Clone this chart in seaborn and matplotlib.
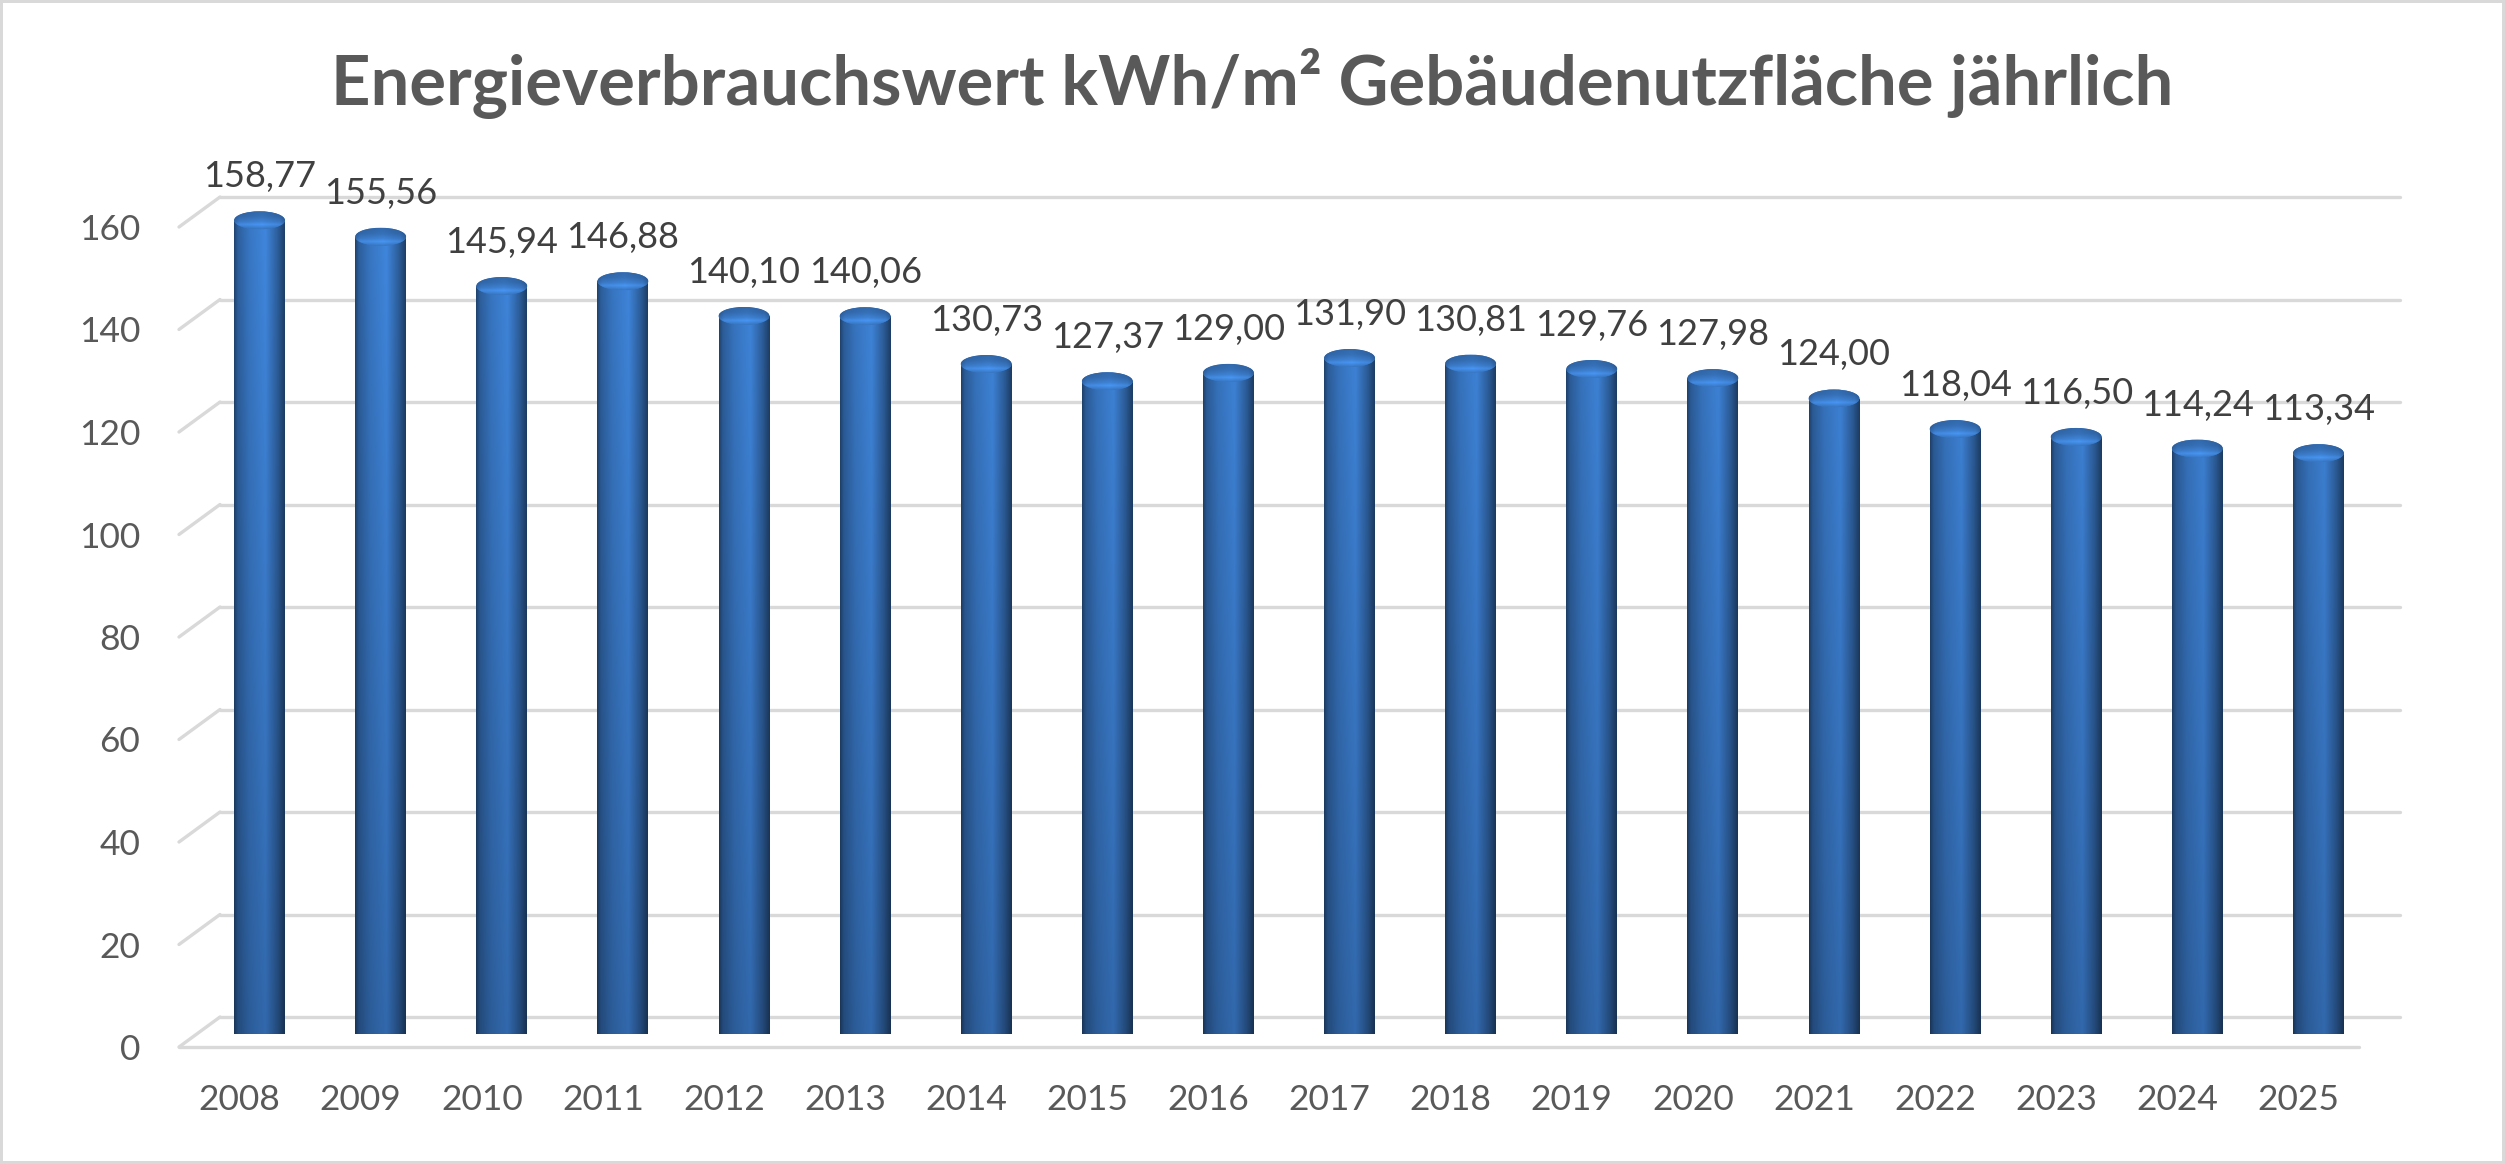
import numpy as np
import pandas as pd
import matplotlib
matplotlib.use("Agg")
import matplotlib.pyplot as plt
import matplotlib.transforms as mtransforms
from matplotlib.patches import Ellipse
from matplotlib.lines import Line2D
import seaborn as sns

# ---------------- data ----------------
years = ["2008", "2009", "2010", "2011", "2012", "2013", "2014", "2015", "2016",
         "2017", "2018", "2019", "2020", "2021", "2022", "2023", "2024", "2025"]
values = [158.77, 155.56, 145.94, 146.88, 140.10, 140.06, 130.73, 127.37, 129.00,
          131.90, 130.81, 129.76, 127.98, 124.00, 118.04, 116.50, 114.24, 113.34]
y_ticks = [0, 20, 40, 60, 80, 100, 120, 140, 160]
title = "Energieverbrauchswert kWh/m² Gebäudenutzfläche jährlich"

df = pd.DataFrame({"year": years, "value": values})
value_labels = [f"{v:.2f}".replace(".", ",") for v in values]

# ---------------- style ----------------
sns.set_theme(style="white")
plt.rcParams["font.family"] = ["Lato", "DejaVu Sans"]

W, H = 2505, 1164
DPI = 100
fig = plt.figure(figsize=(W / DPI, H / DPI), dpi=DPI)
fig.patch.set_facecolor("white")
fig.patch.set_edgecolor("#d9d9d9")
fig.patch.set_linewidth(4)

# back wall of the pseudo-3D plot area (pixels)
left_px, right_px, bottom_px, top_px = 220, 2400, 1017, 197
ax = fig.add_axes([left_px / W, 1 - bottom_px / H,
                   (right_px - left_px) / W, (bottom_px - top_px) / H])

sns.barplot(data=df, x="year", y="value", color="#3a78c8", saturation=1,
            width=0.42, linewidth=0, ax=ax)

ax.set_xlim(-0.5, len(years) - 0.5)
ax.set_ylim(0, 160)
ax.set_yticks(y_ticks)
ax.set_xlabel("")
ax.set_ylabel("")
sns.despine(ax=ax, left=True, bottom=True)
ax.set_facecolor("none")

# depth offsets (front plane and bar plane) in pixels
front_dx, front_dy = -41, -30
mid_dx, mid_dy = -21, -17
front_off = mtransforms.ScaledTranslation(front_dx / DPI, front_dy / DPI, fig.dpi_scale_trans)
mid_off = mtransforms.ScaledTranslation(mid_dx / DPI, mid_dy / DPI, fig.dpi_scale_trans)
mid = ax.transData + mid_off
front = ax.transData + front_off

# gridlines on the back wall
grid_color = "#d9d9d9"
ax.grid(axis="y", color=grid_color, linewidth=2.4)
ax.grid(axis="x", visible=False)
ax.set_axisbelow(True)
for gl in ax.get_ygridlines():
    gl.set_clip_on(False)

# diagonal connectors on the left side wall
x0 = ax.get_xlim()[0]
for v in y_ticks:
    tr = fig.dpi_scale_trans + mtransforms.ScaledTranslation(x0, v, ax.transData)
    ln = Line2D([0, front_dx / DPI], [0, front_dy / DPI], transform=tr,
                color=grid_color, linewidth=2.4, clip_on=False, zorder=0.5,
                solid_capstyle="round")
    ax.add_line(ln)
# front edge of the floor
ax.plot(ax.get_xlim(), [0, 0], transform=front, color=grid_color,
        linewidth=2.4, clip_on=False, zorder=0.5, solid_capstyle="round")

# ---------------- cylinder shading ----------------
ppu = ax.transData.transform((0, 1))[1] - ax.transData.transform((0, 0))[1]
cap_h = 18 / ppu  # ellipse height in data units

nx, ny = 80, 300
hx = np.linspace(0, 1, nx)
h_mult = np.interp(hx, [0, 0.07, 0.3, 0.62, 0.86, 1.0],
                   [0.52, 0.72, 0.9, 1.02, 0.72, 0.48])
vy = np.linspace(0, 1, ny)[:, None]
top_col = np.array([0.245, 0.52, 0.855])
bot_col = np.array([0.19, 0.40, 0.66])
base = bot_col[None, None, :] * (1 - vy[..., None]) + top_col[None, None, :] * vy[..., None]
body_img = np.clip(base * h_mult[None, :, None], 0, 1)

# top cap image
cy = np.linspace(0, 1, 60)[:, None]  # 0 = front (bottom), 1 = back (top)
cap_v = np.interp(cy, [0, 0.25, 0.4, 0.7, 1.0], [0.95, 1.2, 1.05, 0.9, 0.85])
cap_h_mult = np.interp(hx, [0, 0.1, 0.55, 0.9, 1.0], [0.78, 0.92, 1.0, 0.9, 0.75])
cap_base = np.array([0.235, 0.49, 0.80])
cap_img = np.clip(cap_base[None, None, :] * (cap_v[..., None] * cap_h_mult[None, :, None]), 0, 1)

for patch in list(ax.patches):
    patch.set_transform(mid)
    patch.set_clip_on(False)
    x, w, h = patch.get_x(), patch.get_width(), patch.get_height()
    cx = x + w / 2
    z = 2
    patch.set_zorder(z)
    # body
    im = ax.imshow(body_img, extent=[x, x + w, -cap_h, 160 + cap_h], origin="lower",
                   aspect="auto", interpolation="bilinear", zorder=z + 0.1)
    im.set_transform(mid)
    im.set_clip_path(patch)
    # rounded bottom
    bottom_ell = Ellipse((cx, 0), w, cap_h, transform=mid, facecolor="none",
                         edgecolor="none")
    ax.add_patch(bottom_ell)
    bottom_ell.set_clip_on(False)
    im2 = ax.imshow(body_img, extent=[x, x + w, -cap_h, 160 + cap_h], origin="lower",
                    aspect="auto", interpolation="bilinear", zorder=z + 0.1)
    im2.set_transform(mid)
    im2.set_clip_path(bottom_ell)
    # top cap
    top_ell = Ellipse((cx, h), w, cap_h, transform=mid, facecolor="#3a78c8",
                      edgecolor="none", zorder=z + 0.2)
    ax.add_patch(top_ell)
    top_ell.set_clip_on(False)
    im3 = ax.imshow(cap_img, extent=[x, x + w, h - cap_h / 2, h + cap_h / 2],
                    origin="lower", aspect="auto", interpolation="bilinear",
                    zorder=z + 0.3)
    im3.set_transform(mid)
    im3.set_clip_path(top_ell)

ax.set_xlim(-0.5, len(years) - 0.5)
ax.set_ylim(0, 160)

# data labels
label_off = mtransforms.ScaledTranslation(0, 33 / DPI, fig.dpi_scale_trans)
for patch, lab in zip([p for p in ax.patches if not isinstance(p, Ellipse)], value_labels):
    cx = patch.get_x() + patch.get_width() / 2
    ax.text(cx, patch.get_height(), lab, transform=mid + label_off,
            ha="center", va="baseline", fontsize=26, color="#404040",
            clip_on=False, zorder=5)

# tick labels on the front plane
tick_color = "#595959"
ax.tick_params(axis="x", length=0, pad=27, labelsize=25.5, labelcolor=tick_color)
ax.tick_params(axis="y", length=0, pad=28, labelsize=25.5, labelcolor=tick_color)
for lbl in ax.get_xticklabels() + ax.get_yticklabels():
    lbl.set_transform(lbl.get_transform() + front_off)

# title
fig.text(0.5, 1 - 105 / H, title, ha="center", va="baseline", fontsize=49.5,
         fontweight="bold", color="#595959")

fig.savefig("out.png", dpi=DPI, facecolor=fig.get_facecolor(),
            edgecolor=fig.get_edgecolor())
